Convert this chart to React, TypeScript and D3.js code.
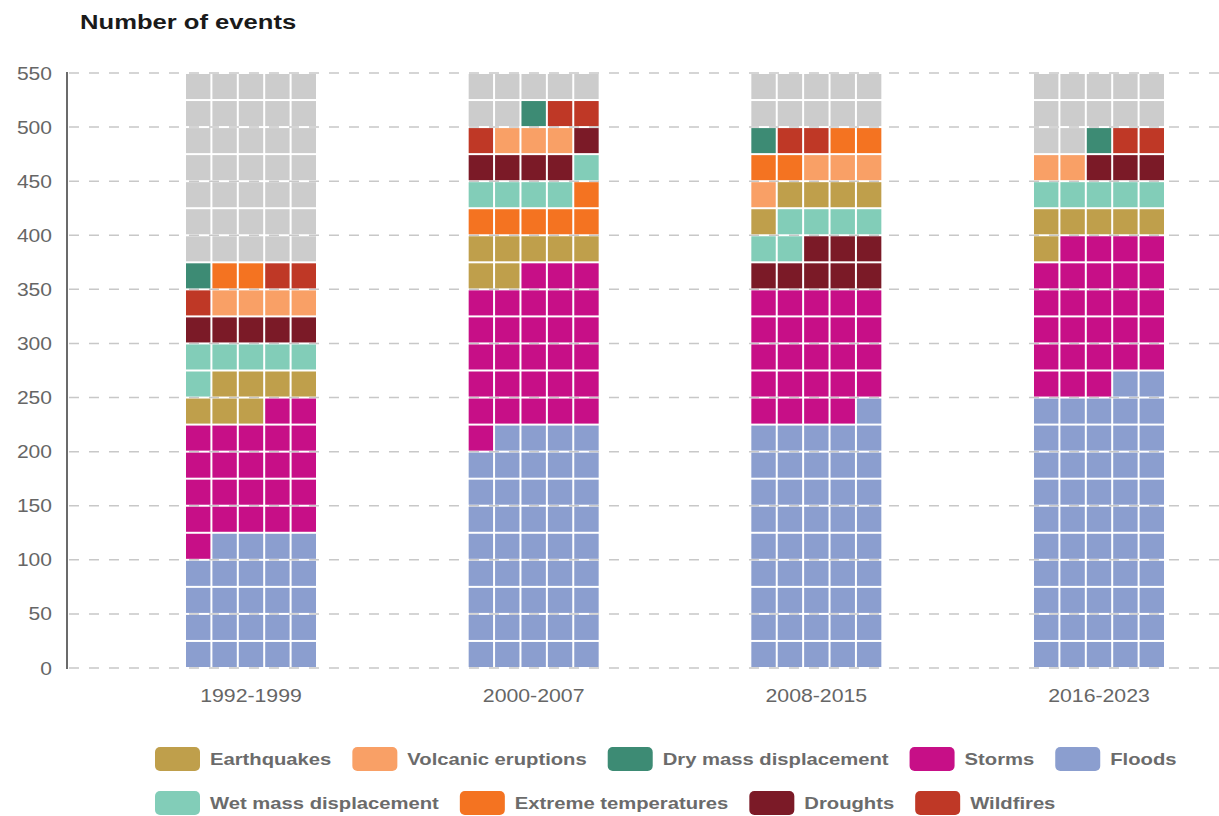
import React, { useEffect, useRef } from 'react';
import * as d3 from 'd3';

// Disaster events per period, by hazard type (each cell = 5 events)
const periods = ['1992-1999', '2000-2007', '2008-2015', '2016-2023'];

const hazardNames = [
  'Earthquakes',
  'Volcanic eruptions',
  'Dry mass displacement',
  'Storms',
  'Floods',
  'Wet mass displacement',
  'Extreme temperatures',
  'Droughts',
  'Wildfires',
];

const hazardColors = [
  '#bf9f4b',
  '#f9a066',
  '#3d8b74',
  '#c70f87',
  '#8b9ecf',
  '#82cdb8',
  '#f47321',
  '#7b1a27',
  '#bf3826',
];

const earthquakes = [35, 35, 25, 30];
const volcanicEruptions = [20, 15, 20, 10];
const dryMassDisplacement = [5, 5, 5, 5];
const storms = [115, 145, 120, 135];
const floods = [120, 220, 230, 260];
const wetMassDisplacement = [30, 25, 30, 25];
const extremeTemperatures = [10, 30, 20, 0];
const droughts = [25, 25, 40, 15];
const wildfires = [15, 15, 10, 10];

const seriesValues = [
  earthquakes,
  volcanicEruptions,
  dryMassDisplacement,
  storms,
  floods,
  wetMassDisplacement,
  extremeTemperatures,
  droughts,
  wildfires,
];

const yTicks = [0, 50, 100, 150, 200, 250, 300, 350, 400, 450, 500, 550];

const EVENTS_PER_CELL = 5;
const CELLS_PER_ROW = 5;
const Y_MAX = 550;
const EMPTY_COLOR = '#cccccc';

const W = 1219;
const H = 816;
const FONT = "'Liberation Sans', Arial, Helvetica, sans-serif";
const STRETCH = 1.17;
const LEGEND_STRETCH = 1.19;

export default function App() {
  const ref = useRef<SVGSVGElement | null>(null);

  useEffect(() => {
    const svg = d3.select(ref.current);
    svg.selectAll('*').remove();

    const y = d3.scaleLinear().domain([0, Y_MAX]).range([668, 73]);
    const x = d3.scalePoint<string>().domain(periods).range([251, 1099]);
    const barW = 132;
    const cellW = barW / CELLS_PER_ROW;
    const rowUnit = EVENTS_PER_CELL * CELLS_PER_ROW;
    const rowH = y(0) - y(rowUnit);
    const totalCells = (Y_MAX / rowUnit) * CELLS_PER_ROW;

    const addText = (
      g: d3.Selection<any, unknown, null, undefined>,
      str: string,
      tx: number,
      ty: number,
      opts: { size: number; weight?: string; fill?: string; anchor?: string; sx?: number }
    ) =>
      g
        .append('text')
        .attr('transform', `translate(${tx},${ty}) scale(${opts.sx ?? STRETCH},1)`)
        .attr('font-family', FONT)
        .attr('font-size', opts.size)
        .attr('font-weight', opts.weight ?? 'normal')
        .attr('fill', opts.fill ?? '#666')
        .attr('text-anchor', opts.anchor ?? 'start')
        .text(str);

    // Title
    addText(svg as any, 'Number of events', 80, 29, {
      size: 21,
      weight: 'bold',
      fill: '#1a1a1a',
      sx: 1.22,
    });

    // Gridlines
    svg
      .append('g')
      .selectAll('line')
      .data(yTicks)
      .join('line')
      .attr('x1', 69)
      .attr('x2', W)
      .attr('y1', (d) => y(d))
      .attr('y2', (d) => y(d))
      .attr('stroke', '#c8c8c8')
      .attr('stroke-width', 1.5)
      .attr('stroke-dasharray', '10,10');

    // Y tick labels
    const yLabels = svg.append('g');
    yTicks.forEach((t) => {
      addText(yLabels as any, String(t), 52, y(t) + 6.5, { size: 18, anchor: 'end' });
    });

    // Y axis line
    svg
      .append('line')
      .attr('x1', 67)
      .attr('x2', 67)
      .attr('y1', y(Y_MAX) - 1)
      .attr('y2', y(0) + 1)
      .attr('stroke', '#6b6b6b')
      .attr('stroke-width', 2);

    // Waffle columns
    periods.forEach((p, pi) => {
      const order = hazardNames
        .map((name, hi) => ({ hi, v: seriesValues[hi][pi] }))
        .sort((a, b) => b.v - a.v || a.hi - b.hi);
      const cells: string[] = [];
      order.forEach(({ hi, v }) => {
        const n = Math.round(v / EVENTS_PER_CELL);
        for (let i = 0; i < n; i++) cells.push(hazardColors[hi]);
      });
      while (cells.length < totalCells) cells.push(EMPTY_COLOR);

      const left = (x(p) as number) - barW / 2;
      svg
        .append('g')
        .selectAll('rect')
        .data(cells)
        .join('rect')
        .attr('x', (_, k) => left + (CELLS_PER_ROW - 1 - (k % CELLS_PER_ROW)) * cellW + 1)
        .attr('y', (_, k) => y((Math.floor(k / CELLS_PER_ROW) + 1) * rowUnit) + 1)
        .attr('width', cellW - 2)
        .attr('height', rowH - 2)
        .attr('fill', (d) => d);

      addText(svg as any, p, x(p) as number, 702, { size: 19, anchor: 'middle', sx: 1.12 });
    });

    // Legend (wrapping rows)
    const legend = svg.append('g');
    const startX = 155;
    const maxX = 1200;
    let lx = startX;
    let ly = 747;
    hazardNames.forEach((name, i) => {
      const g = legend.append('g');
      const t = addText(g as any, name, 0, 0, {
        size: 17,
        weight: 'bold',
        fill: '#6b6b6b',
        sx: LEGEND_STRETCH,
      });
      const tw = (t.node() as SVGTextElement).getComputedTextLength() * LEGEND_STRETCH;
      const itemW = 45 + 10 + tw;
      if (lx + itemW > maxX && lx > startX) {
        lx = startX;
        ly += 44;
      }
      g.append('rect')
        .attr('x', lx)
        .attr('y', ly)
        .attr('width', 45)
        .attr('height', 24)
        .attr('rx', 5)
        .attr('fill', hazardColors[i]);
      t.attr('transform', `translate(${lx + 55},${ly + 18}) scale(${LEGEND_STRETCH},1)`);
      lx += itemW + 21;
    });
  }, []);

  return (
    <svg
      ref={ref}
      width={W}
      height={H}
      style={{ position: 'absolute', left: 0, top: 0, display: 'block', background: '#fff' }}
    />
  );
}
